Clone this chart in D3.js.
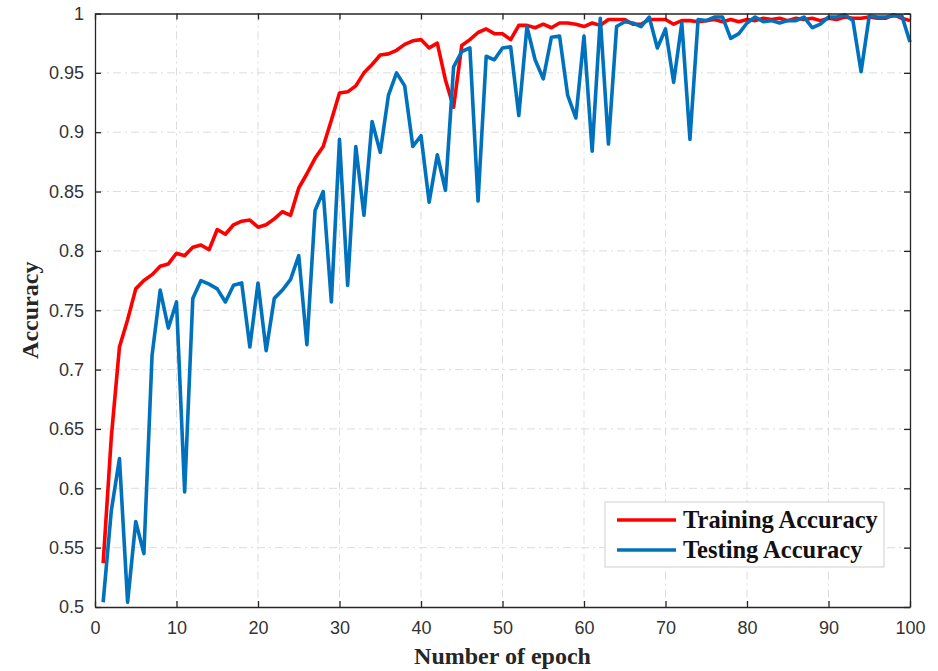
<!DOCTYPE html>
<html>
<head>
<meta charset="utf-8">
<script src="https://cdn.jsdelivr.net/npm/d3@7"></script>
<style>
  body { margin: 0; background: #fff; }
  .tick text { font-family: "Liberation Sans", Arial, sans-serif; font-size: 18px; fill: #333; }
</style>
</head>
<body>
<div class="canvas"></div>
<script>
// data
const epochs = d3.range(1, 101);

const trainAcc = [
  0.537, 0.643, 0.719, 0.742, 0.768, 0.775, 0.780, 0.787, 0.789, 0.798,
  0.796, 0.803, 0.805, 0.801, 0.818, 0.814, 0.822, 0.825, 0.826, 0.820,
  0.822, 0.827, 0.833, 0.830, 0.853, 0.865, 0.878, 0.888, 0.910, 0.933,
  0.934, 0.939, 0.950, 0.957, 0.965, 0.966, 0.969, 0.974, 0.977, 0.978,
  0.971, 0.975, 0.944, 0.921, 0.973, 0.978, 0.984, 0.987, 0.983, 0.983,
  0.978, 0.990, 0.990, 0.988, 0.991, 0.988, 0.992, 0.992, 0.991, 0.989,
  0.992, 0.990, 0.995, 0.995, 0.995, 0.991, 0.991, 0.995, 0.995, 0.995,
  0.991, 0.994, 0.994, 0.993, 0.994, 0.995, 0.993, 0.995, 0.993, 0.995,
  0.994, 0.996, 0.995, 0.996, 0.994, 0.996, 0.995, 0.996, 0.994, 0.996,
  0.995, 0.997, 0.996, 0.996, 0.997, 0.996, 0.996, 0.999, 0.996, 0.994
];

const testAcc = [
  0.504, 0.581, 0.625, 0.504, 0.572, 0.545, 0.712, 0.767, 0.735, 0.757,
  0.597, 0.760, 0.775, 0.772, 0.768, 0.757, 0.771, 0.773, 0.719, 0.773,
  0.716, 0.760, 0.767, 0.776, 0.796, 0.721, 0.834, 0.850, 0.757, 0.894,
  0.771, 0.888, 0.830, 0.909, 0.883, 0.931, 0.950, 0.939, 0.888, 0.897,
  0.841, 0.881, 0.851, 0.955, 0.968, 0.971, 0.842, 0.964, 0.961, 0.971,
  0.972, 0.914, 0.989, 0.961, 0.945, 0.980, 0.981, 0.931, 0.912, 0.981,
  0.884, 0.996, 0.890, 0.989, 0.993, 0.992, 0.989, 0.997, 0.971, 0.987,
  0.942, 0.992, 0.894, 0.995, 0.994, 0.997, 0.997, 0.979, 0.983, 0.992,
  0.997, 0.993, 0.994, 0.992, 0.994, 0.994, 0.997, 0.988, 0.991, 0.997,
  0.997, 0.999, 0.994, 0.951, 0.998, 0.997, 0.997, 0.998, 0.998, 0.976
];

const xTicks = d3.range(0, 101, 10);
const yTicks = d3.range(0.5, 1.0001, 0.05);

const seriesNames = ['Training Accuracy', 'Testing Accuracy'];
const seriesColors = ['#ff0000', '#0072bd'];

// svg + margins
const width = 938, height = 671;
const margin = {top: 13.5, right: 28, bottom: 64, left: 95};
const graphWidth = width - margin.left - margin.right;
const graphHeight = height - margin.top - margin.bottom;

const svg = d3.select('.canvas')
  .append('svg')
  .attr('width', width)
  .attr('height', height);

const graph = svg.append('g')
  .attr('transform', `translate(${margin.left}, ${margin.top})`);

const x = d3.scaleLinear().domain([0, 100]).range([0, graphWidth]);
const y = d3.scaleLinear().domain([0.5, 1]).range([graphHeight, 0]);

// grid
const grid = graph.append('g');
grid.selectAll('.vg').data(xTicks.slice(1, -1)).enter().append('line')
  .attr('x1', d => x(d)).attr('x2', d => x(d))
  .attr('y1', 0).attr('y2', graphHeight);
grid.selectAll('.hg').data(yTicks.slice(1, -1)).enter().append('line')
  .attr('x1', 0).attr('x2', graphWidth)
  .attr('y1', d => y(d)).attr('y2', d => y(d));
grid.selectAll('line')
  .attr('stroke', '#dcdcdc')
  .attr('stroke-width', 1)
  .attr('stroke-dasharray', '8,4,2,4');

// lines
const line = data => d3.line()
  .x((d, i) => x(epochs[i]))
  .y(d => y(d))(data);

[trainAcc, testAcc].forEach((data, i) => {
  graph.append('path')
    .attr('d', line(data))
    .attr('fill', 'none')
    .attr('stroke', seriesColors[i])
    .attr('stroke-width', 3.6)
    .attr('stroke-linejoin', 'round');
});

// axes
const xAxis = d3.axisBottom(x).tickValues(xTicks).tickSizeInner(-6).tickSizeOuter(0).tickPadding(14);
const yAxis = d3.axisLeft(y).tickValues(yTicks).tickSizeInner(-6).tickSizeOuter(0).tickPadding(11)
  .tickFormat(d => d3.format('~g')(+d.toFixed(2)));
const xTop = d3.axisTop(x).tickValues(xTicks).tickSizeInner(-6).tickSizeOuter(0).tickFormat('');
const yRight = d3.axisRight(y).tickValues(yTicks).tickSizeInner(-6).tickSizeOuter(0).tickFormat('');

const axisGroups = [
  graph.append('g').attr('transform', `translate(0, ${graphHeight})`).call(xAxis),
  graph.append('g').call(yAxis),
  graph.append('g').call(xTop),
  graph.append('g').attr('transform', `translate(${graphWidth}, 0)`).call(yRight)
];
axisGroups.forEach(g => {
  g.selectAll('path, line').attr('stroke', '#262626').attr('stroke-width', 1.3);
});

// axis titles
svg.append('text')
  .attr('x', margin.left + graphWidth / 2)
  .attr('y', 664)
  .attr('text-anchor', 'middle')
  .style('font-family', '"Liberation Serif", "Times New Roman", serif')
  .style('font-weight', 'bold')
  .style('font-size', '24px')
  .attr('fill', '#262626')
  .text('Number of epoch');

svg.append('text')
  .attr('transform', `translate(38, ${margin.top + graphHeight / 2}) rotate(-90)`)
  .attr('text-anchor', 'middle')
  .style('font-family', '"Liberation Serif", "Times New Roman", serif')
  .style('font-weight', 'bold')
  .style('font-size', '24px')
  .attr('fill', '#262626')
  .text('Accuracy');

// legend
const legend = svg.append('g').attr('transform', 'translate(605, 502)');
legend.append('rect')
  .attr('width', 279).attr('height', 65)
  .attr('fill', '#fff')
  .attr('stroke', '#cfcfcf')
  .attr('stroke-width', 1);

seriesNames.forEach((name, i) => {
  const row = legend.append('g').attr('transform', `translate(0, ${18 + i * 30})`);
  row.append('line')
    .attr('x1', 12).attr('x2', 71)
    .attr('stroke', seriesColors[i])
    .attr('stroke-width', 3.6);
  row.append('text')
    .attr('x', 78).attr('y', 8)
    .style('font-family', '"Liberation Serif", "Times New Roman", serif')
    .style('font-weight', 'bold')
    .style('font-size', '24.5px')
    .attr('fill', '#111')
    .text(name);
});
</script>
</body>
</html>
